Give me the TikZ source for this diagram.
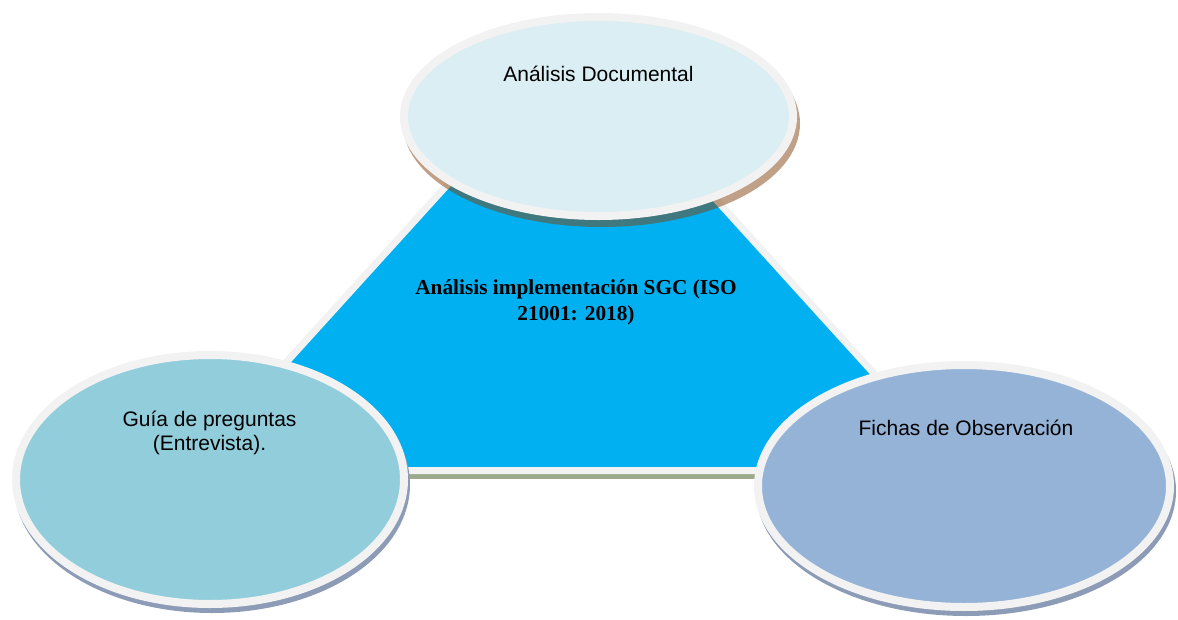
\documentclass[tikz,border=0pt]{standalone}
\usepackage{fontspec}
\setmainfont{Liberation Serif}
\setsansfont{Liberation Sans}
\usetikzlibrary{shapes.geometric, shadows}

\definecolor{docfill}{HTML}{DAEEF3}
\definecolor{guidefill}{HTML}{92CDDC}
\definecolor{obsfill}{HTML}{95B3D7}
\definecolor{coreblue}{HTML}{00B0F0}
\definecolor{rimgray}{HTML}{F2F2F2}
\definecolor{trishade}{HTML}{9CA98B}
\definecolor{docshade}{HTML}{81410F}
\definecolor{sideshade}{HTML}{8C9CB7}

\begin{document}
\begin{tikzpicture}[
    x=1pt, y=-1pt,
    every node/.style={align=center},
    bubble/.style={ellipse, draw=rimgray, line width=8pt, inner sep=0pt},
    lbl/.style={font=\sffamily\fontsize{21}{24}\selectfont, anchor=base},
    core/.style={font=\bfseries\fontsize{21.3}{26}\selectfont, anchor=base},
    tri/.style={draw=rimgray, line width=7pt, fill=coreblue}
]
\useasboundingbox (0,0) rectangle (1178,619);

% Central triangle
\coordinate (apex) at (575,44);
\coordinate (bl) at (188,470.5);
\coordinate (br) at (962,470.5);

\draw[trishade, line width=7pt] ([yshift=-5pt]bl) -- ([yshift=-5pt]br);
\draw[tri] (apex) -- (br) -- (bl) -- cycle;
\node[core] (sgc) at (576,320) {Análisis implementación SGC (ISO\\ 21001: 2018)};

% Top
\node[bubble, fill=docfill, minimum width=389pt, minimum height=199pt,
      drop shadow={shadow xshift=3pt, shadow yshift=-7pt, fill=none, draw=docshade, line width=8pt, opacity=.5}]
      (doc) at (598.5,116.5) {};
\node[lbl] (doctxt) at (598.5,81) {Análisis Documental};

% Left
\node[bubble, fill=guidefill, minimum width=388pt, minimum height=249pt,
      drop shadow={shadow xshift=2pt, shadow yshift=-5pt, fill=none, draw=sideshade, line width=8pt, opacity=1}]
      (guide) at (210,479.5) {};
\node[lbl] (guidetxt) at (209.5,450) {Guía de preguntas\\ (Entrevista).};

% Right
\node[bubble, fill=obsfill, minimum width=412pt, minimum height=242pt,
      drop shadow={shadow xshift=2pt, shadow yshift=-5pt, fill=none, draw=sideshade, line width=8pt, opacity=1}]
      (obs) at (964,486) {};
\node[lbl] (obstxt) at (966,435) {Fichas de Observación};

\end{tikzpicture}
\end{document}
